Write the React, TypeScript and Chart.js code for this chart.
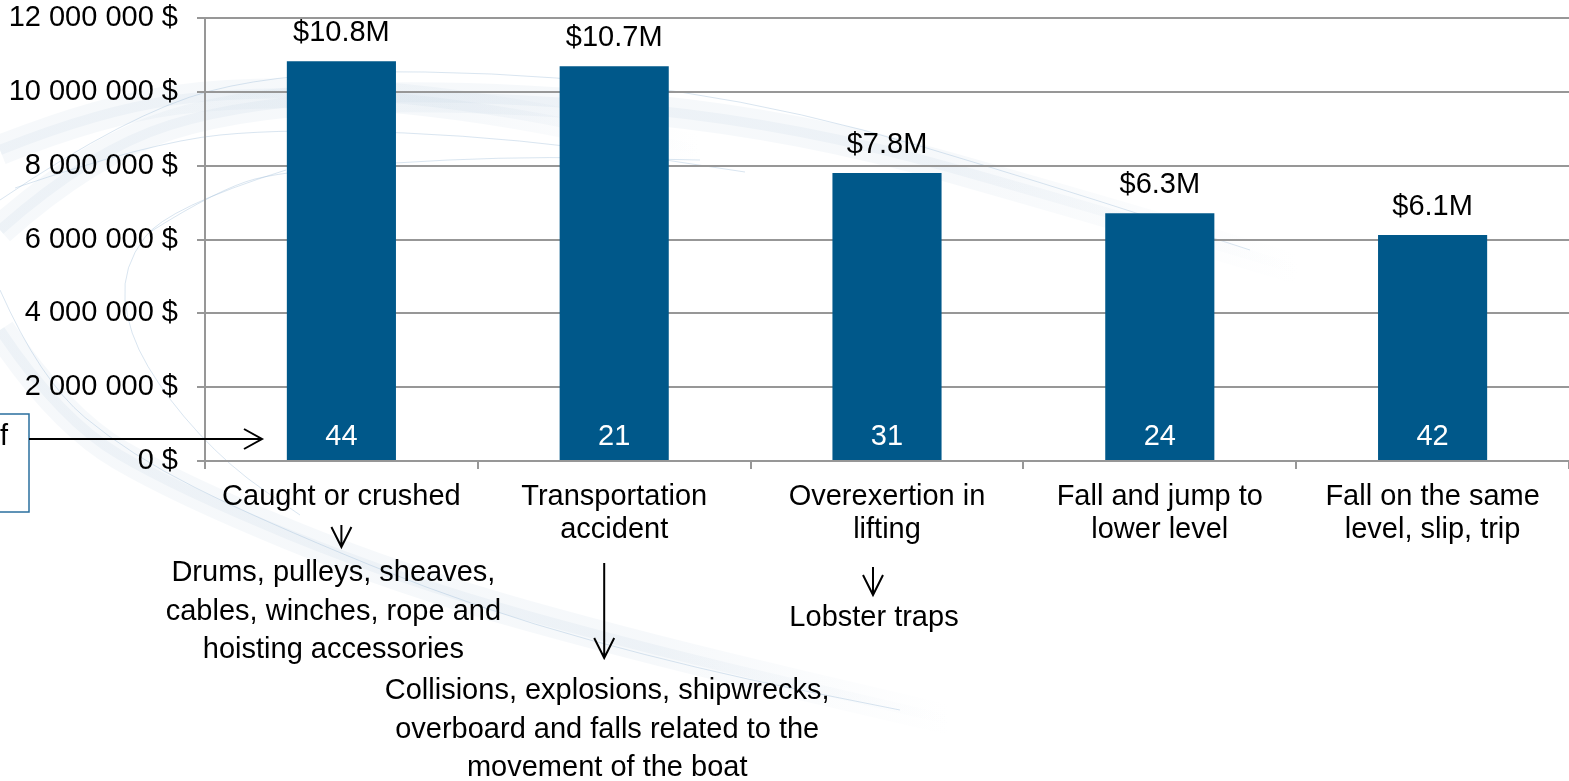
import React, { useEffect, useRef } from "react";
import { Chart, registerables } from "chart.js";

Chart.register(...registerables);

const FONT = "'Liberation Sans', Arial, Helvetica, sans-serif";
const FS = 29;

// ---- data ----
const categories: string[][] = [
  ["Caught or crushed"],
  ["Transportation", "accident"],
  ["Overexertion in", "lifting"],
  ["Fall and jump to", "lower level"],
  ["Fall on the same", "level, slip, trip"],
];
const costValues = [10830000, 10690000, 7800000, 6710000, 6120000];
const costLabels = ["$10.8M", "$10.7M", "$7.8M", "$6.3M", "$6.1M"];
const caseCounts = [44, 21, 31, 24, 42];
const yMin = 0;
const yMax = 12000000;
const yStep = 2000000;

const notes = [
  { cat: 0, arrowDx: 0, arrowFrom: 64, arrowTo: 86, textDx: -8, firstLine: 112, lines: ["Drums, pulleys, sheaves,", "cables, winches, rope and", "hoisting accessories"] },
  { cat: 1, arrowDx: -10, arrowFrom: 102, arrowTo: 197, textDx: -7, firstLine: 230, lines: ["Collisions, explosions, shipwrecks,", "overboard and falls related to the", "movement of the boat"] },
  { cat: 2, arrowDx: -14, arrowFrom: 106, arrowTo: 134, textDx: -13, firstLine: 157, lines: ["Lobster traps"] },
];

const BAR = "#00588A";
const GRID = "#979797";

// decorative background swirl (canvas px)
const swirlLines: number[][][] = [
  [[0, 200], [130, 112], [290, 70], [560, 74], [800, 110], [1050, 185], [1250, 250]],
  [[15, 188], [150, 142], [290, 128], [520, 138], [745, 172]],
  [[150, 232], [220, 188], [290, 170], [500, 156], [700, 160]],
  [[286, 170], [168, 207], [122, 267], [128, 333], [168, 400], [230, 467], [300, 515]],
  [[0, 290], [40, 380], [130, 455], [260, 520], [480, 610], [700, 670], [900, 710]],
];
const swirlBands: { pts: number[][]; fadeFrom: number; fadeTo: number }[] = [
  { pts: [[0, 230], [90, 150], [250, 100], [500, 95], [800, 125], [1100, 210], [1300, 270]], fadeFrom: 950, fadeTo: 1300 },
  { pts: [[0, 330], [60, 420], [180, 490], [400, 580], [650, 650], [950, 720]], fadeFrom: 650, fadeTo: 950 },
  { pts: [[0, 150], [100, 110], [250, 90], [450, 100], [700, 150]], fadeFrom: 450, fadeTo: 700 },
];

function smoothPath(ctx: CanvasRenderingContext2D, pts: number[][]) {
  ctx.beginPath();
  ctx.moveTo(pts[0][0], pts[0][1]);
  for (let i = 1; i < pts.length - 1; i++) {
    const mx = (pts[i][0] + pts[i + 1][0]) / 2;
    const my = (pts[i][1] + pts[i + 1][1]) / 2;
    ctx.quadraticCurveTo(pts[i][0], pts[i][1], mx, my);
  }
  const last = pts[pts.length - 1];
  ctx.lineTo(last[0], last[1]);
}

function arrow(ctx: CanvasRenderingContext2D, x1: number, y1: number, x2: number, y2: number, len: number, half: number) {
  const ang = Math.atan2(y2 - y1, x2 - x1);
  const c = Math.cos(ang), s = Math.sin(ang);
  ctx.beginPath();
  ctx.moveTo(x1, y1);
  ctx.lineTo(x2, y2);
  ctx.moveTo(x2 - len * c - half * s, y2 - len * s + half * c);
  ctx.lineTo(x2, y2);
  ctx.lineTo(x2 - len * c + half * s, y2 - len * s - half * c);
  ctx.stroke();
}

const backgroundPlugin = {
  id: "bgSwirl",
  beforeDraw(chart: any) {
    const ctx: CanvasRenderingContext2D = chart.ctx;
    ctx.save();
    ctx.fillStyle = "#ffffff";
    ctx.fillRect(0, 0, chart.width, chart.height);
    ctx.lineCap = "butt";
    for (const b of swirlBands) {
      const mk = (a: number) => {
        const g = ctx.createLinearGradient(b.fadeFrom, 0, b.fadeTo, 0);
        g.addColorStop(0, `rgba(205,219,232,${a})`);
        g.addColorStop(1, "rgba(205,219,232,0)");
        return g;
      };
      smoothPath(ctx, b.pts);
      ctx.strokeStyle = mk(0.18);
      ctx.lineWidth = 30;
      ctx.stroke();
      smoothPath(ctx, b.pts);
      ctx.strokeStyle = mk(0.22);
      ctx.lineWidth = 10;
      ctx.stroke();
    }
    for (const l of swirlLines) {
      smoothPath(ctx, l);
      ctx.strokeStyle = "rgba(160,190,218,0.4)";
      ctx.lineWidth = 1;
      ctx.stroke();
    }
    ctx.restore();
  },
};

const labelsPlugin = {
  id: "labels",
  afterDatasetsDraw(chart: any) {
    const ctx: CanvasRenderingContext2D = chart.ctx;
    const meta = chart.getDatasetMeta(0);
    const bottom = chart.chartArea.bottom;
    ctx.save();
    ctx.font = `${FS}px ${FONT}`;
    ctx.textAlign = "center";
    ctx.textBaseline = "middle";
    meta.data.forEach((bar: any, i: number) => {
      ctx.fillStyle = "#000";
      ctx.fillText(costLabels[i], bar.x, bar.y - 28);
      ctx.fillStyle = "#fff";
      ctx.fillText(String(caseCounts[i]), bar.x, bottom - 24);
    });
    ctx.restore();
  },
  afterDraw(chart: any) {
    const ctx: CanvasRenderingContext2D = chart.ctx;
    const x = chart.scales.x;
    const bottom = chart.chartArea.bottom;
    const left = chart.chartArea.left;
    ctx.save();
    ctx.strokeStyle = "#000";
    ctx.fillStyle = "#000";
    ctx.lineWidth = 2;
    ctx.font = `${FS}px ${FONT}`;
    ctx.textAlign = "center";
    ctx.textBaseline = "middle";
    for (const n of notes) {
      const cx = x.getPixelForValue(n.cat);
      arrow(ctx, cx + n.arrowDx, bottom + n.arrowFrom, cx + n.arrowDx, bottom + n.arrowTo, 20, 10);
      n.lines.forEach((t, k) => {
        ctx.fillText(t, cx + n.textDx, bottom + n.firstLine + k * 38.5);
      });
    }
    // left box with arrow
    ctx.strokeStyle = "#2a6f9e";
    ctx.lineWidth = 1.5;
    ctx.strokeRect(-2, bottom - 47, 31, 98);
    ctx.textAlign = "left";
    ctx.fillStyle = "#000";
    ctx.fillText("f", 0, bottom - 24);
    ctx.strokeStyle = "#000";
    ctx.lineWidth = 2;
    arrow(ctx, 29, bottom - 22, left + 57, bottom - 22, 18, 10);
    ctx.restore();
  },
};

export default function App() {
  const ref = useRef<HTMLCanvasElement | null>(null);
  useEffect(() => {
    if (!ref.current) return;
    const chart = new Chart(ref.current, {
      type: "bar",
      data: {
        labels: categories,
        datasets: [
          {
            data: costValues,
            backgroundColor: BAR,
            borderWidth: 0,
            barPercentage: 0.4,
            categoryPercentage: 1,
          },
        ],
      },
      options: {
        responsive: false,
        animation: false,
        devicePixelRatio: 1,
        layout: { padding: { top: 18, left: 0, right: 0, bottom: 0 } },
        plugins: { legend: { display: false }, tooltip: { enabled: false }, title: { display: false } },
        scales: {
          x: {
            grid: { drawOnChartArea: false, drawTicks: true, tickLength: 8, color: GRID, lineWidth: 2, offset: true },
            border: { display: true, color: GRID, width: 2 },
            ticks: { color: "#000", font: { family: FONT, size: FS, lineHeight: 33 / FS }, padding: 11, maxRotation: 0, autoSkip: false },
            afterFit: (s: any) => { s.height = 320; s.paddingLeft = 0; s.paddingRight = 0; },
          },
          y: {
            min: yMin,
            max: yMax,
            grid: { color: GRID, lineWidth: 2, tickLength: 8, drawTicks: true },
            border: { display: true, color: GRID, width: 2 },
            ticks: {
              stepSize: yStep,
              color: "#000",
              padding: 19,
              font: { family: FONT, size: FS },
              callback: (v: any) => String(v).replace(/\B(?=(\d{3})+(?!\d))/g, " ") + " $",
            },
            afterFit: (s: any) => { s.width = 205; s.paddingTop = 0; s.paddingBottom = 0; },
          },
        },
      },
      plugins: [backgroundPlugin, labelsPlugin],
    });
    return () => chart.destroy();
  }, []);
  return (
    <div style={{ position: "absolute", left: 0, top: 0, width: 1569, height: 781, overflow: "hidden", background: "#fff" }}>
      <canvas ref={ref} width={1569} height={781} style={{ display: "block", width: 1569, height: 781 }} />
    </div>
  );
}
